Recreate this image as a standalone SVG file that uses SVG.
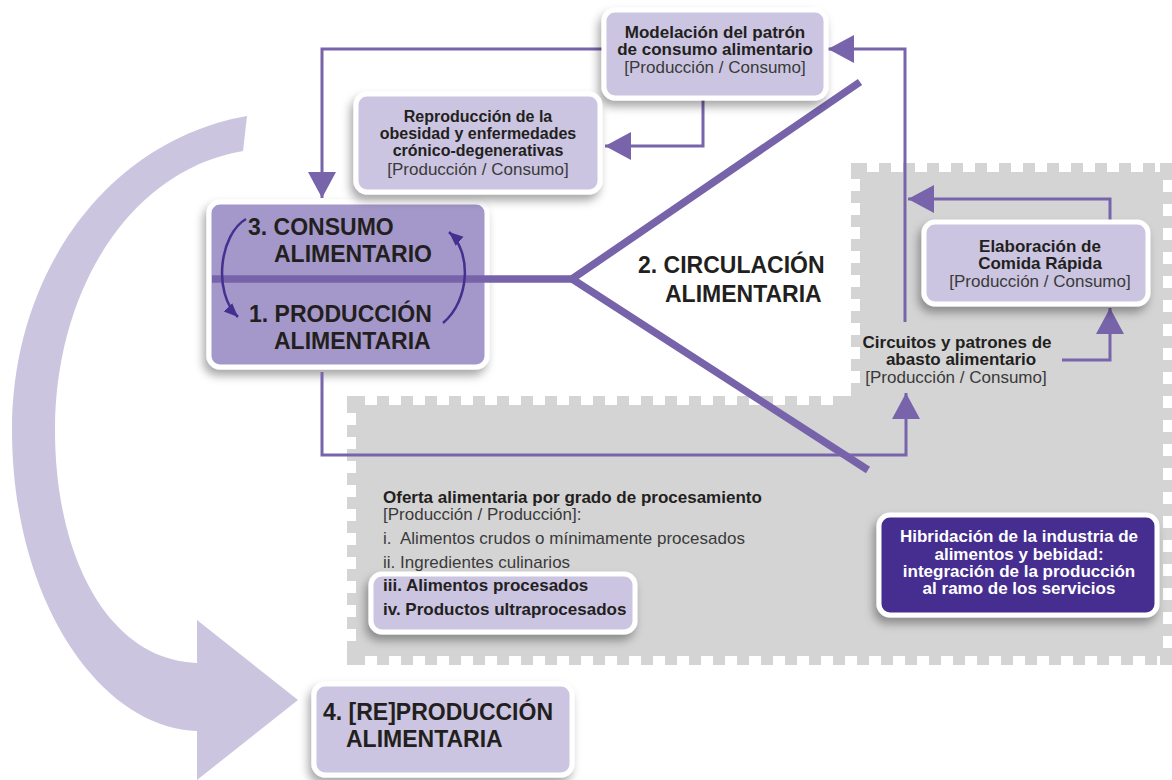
<svg xmlns="http://www.w3.org/2000/svg" width="1172" height="780" viewBox="0 0 1172 780">
<style>
.b{font-family:"Liberation Sans",Arial,sans-serif;font-weight:bold;fill:#231f20}
.r{font-family:"Liberation Sans",Arial,sans-serif;fill:#3a3a3a}
.big{font-size:23px}
.m{font-size:17px}
.s{font-size:16px}
.w{fill:#ffffff}
.c{text-anchor:middle}
.box{stroke:#ffffff;stroke-width:5;filter:url(#sh)}
.lite{fill:#cbc5e1}
.conn{fill:none;stroke:#7864ab;stroke-width:3;marker-end:url(#ah)}
.thick{fill:none;stroke:#7763aa;stroke-width:7.5}
.notch{stroke:#ffffff;stroke-width:18;stroke-dasharray:12 12}
.loop{fill:none;stroke:#43308f;stroke-width:2.5;marker-end:url(#sm)}
</style>
<defs>
<filter id="sh" x="-20%" y="-20%" width="140%" height="160%">
<feDropShadow dx="-3" dy="6" stdDeviation="5" flood-color="#000" flood-opacity="0.35"/>
</filter>
<marker id="ah" markerUnits="userSpaceOnUse" markerWidth="30" markerHeight="30" refX="26" refY="14" orient="auto">
<path d="M0,0 L26,14 L0,28 Z" fill="#7864ab"/>
</marker>
<marker id="sm" markerUnits="userSpaceOnUse" markerWidth="16" markerHeight="14" refX="14" refY="6" orient="auto">
<path d="M0,0 L14,6 L0,12 Z" fill="#43308f"/>
</marker>
<clipPath id="gclip"><path d="M851,163 H1172 V665 H347 V396 H851 Z"/></clipPath>
</defs>

<g id="gray-area">
<path d="M851,163 H1172 V665 H347 V396 H851 Z" fill="#d4d4d4"/>
<g clip-path="url(#gclip)" class="notch">
<line x1="867" y1="163" x2="1160" y2="163"/>
<line x1="851" y1="179" x2="851" y2="388"/>
<line x1="365" y1="396" x2="843" y2="396"/>
<line x1="347" y1="413" x2="347" y2="650"/>
<line x1="365" y1="665" x2="1160" y2="665"/>
<line x1="1172" y1="180" x2="1172" y2="650"/>
</g>
</g>

<g id="big-arrow">
<path d="M247,116 C110,140 12,270 12,430 C12,600 100,728 197,731 L197,780 L298,700 L197,620 L197,663 C110,660 55,560 55,430 C55,290 130,170 243,151 Z" fill="#cbc5e0"/>
</g>

<g id="consumo-produccion">
<rect x="209" y="202" width="278" height="165" rx="11" fill="#a398c9" class="box"/>
</g>

<g id="connectors">
<path class="thick" d="M212,279 H572"/>
<path class="thick" d="M860,82 L572,279 L868,470"/>
<path class="conn" d="M604,49 H322 V198"/>
<path class="conn" d="M703,98 V146 H605"/>
<path class="conn" d="M905,322 V49 H828"/>
<path class="conn" d="M1110,220 V199 H908"/>
<path class="conn" d="M1062,360 H1110 V308"/>
<path class="conn" d="M322,372 V455 H906 V393"/>
<path class="loop" d="M246,219 C220,234 212,292 238,317"/>
<path class="loop" d="M443,323 C470,300 472,252 449,232"/>
</g>

<g id="consumo-produccion-labels">
<text class="b big" x="248" y="235">3. CONSUMO</text>
<text class="b big" x="274" y="262">ALIMENTARIO</text>
<text class="b big" x="249" y="322">1. PRODUCCIÓN</text>
<text class="b big" x="274" y="349">ALIMENTARIA</text>
</g>

<g id="modelacion">
<rect x="604" y="10" width="222" height="88" rx="11" class="box lite"/>
<text class="b m c" x="715" y="38">Modelación del patrón</text>
<text class="b m c" x="715" y="55">de consumo alimentario</text>
<text class="r m c" x="715" y="73">[Producción / Consumo]</text>
</g>

<g id="reproduccion">
<rect x="356" y="94" width="244" height="98" rx="11" class="box lite"/>
<text class="b s c" x="478" y="122">Reproducción de la</text>
<text class="b s c" x="478" y="139">obesidad y enfermedades</text>
<text class="b s c" x="478" y="156">crónico-degenerativas</text>
<text class="r m c" x="478" y="175">[Producción / Consumo]</text>
</g>

<g id="circulacion">
<text class="b big" x="638" y="273">2. CIRCULACIÓN</text>
<text class="b big" x="665" y="302">ALIMENTARIA</text>
</g>

<g id="elaboracion">
<rect x="924" y="222" width="224" height="82" rx="11" class="box lite"/>
<text class="b m c" x="1040" y="252">Elaboración de</text>
<text class="b m c" x="1040" y="269">Comida Rápida</text>
<text class="r m c" x="1040" y="287">[Producción / Consumo]</text>
</g>

<g id="circuitos">
<text class="b m c" x="957" y="348">Circuitos y patrones de</text>
<text class="b m c" x="961" y="365">abasto alimentario</text>
<text class="r m c" x="956" y="383">[Producción / Consumo]</text>
</g>

<g id="oferta">
<rect x="371" y="574" width="264" height="58" rx="11" class="box lite"/>
<text class="b m" x="383" y="503">Oferta alimentaria por grado de procesamiento</text>
<text class="r m" x="383" y="520">[Producción / Producción]:</text>
<text class="r m" x="383" y="544" fill="#4a4a4a" xml:space="preserve">i.  Alimentos crudos o mínimamente procesados</text>
<text class="r m" x="383" y="568">ii. Ingredientes culinarios</text>
<text class="b m" x="383" y="591">iii. Alimentos procesados</text>
<text class="b m" x="383" y="615">iv. Productos ultraprocesados</text>
</g>

<g id="hibridacion">
<rect x="879" y="515" width="278" height="100" rx="11" fill="#452d8f" class="box"/>
<text class="b m c w" x="1019" y="542">Hibridación de la industria de</text>
<text class="b m c w" x="1019" y="560">alimentos y bebidad:</text>
<text class="b m c w" x="1019" y="577">integración de la producción</text>
<text class="b m c w" x="1019" y="594">al ramo de los servicios</text>
</g>

<g id="reproduccion-alimentaria">
<rect x="314" y="684" width="258" height="91" rx="11" class="box lite"/>
<text class="b big" x="323" y="720">4. [RE]PRODUCCIÓN</text>
<text class="b big" x="346" y="747">ALIMENTARIA</text>
</g>
</svg>
